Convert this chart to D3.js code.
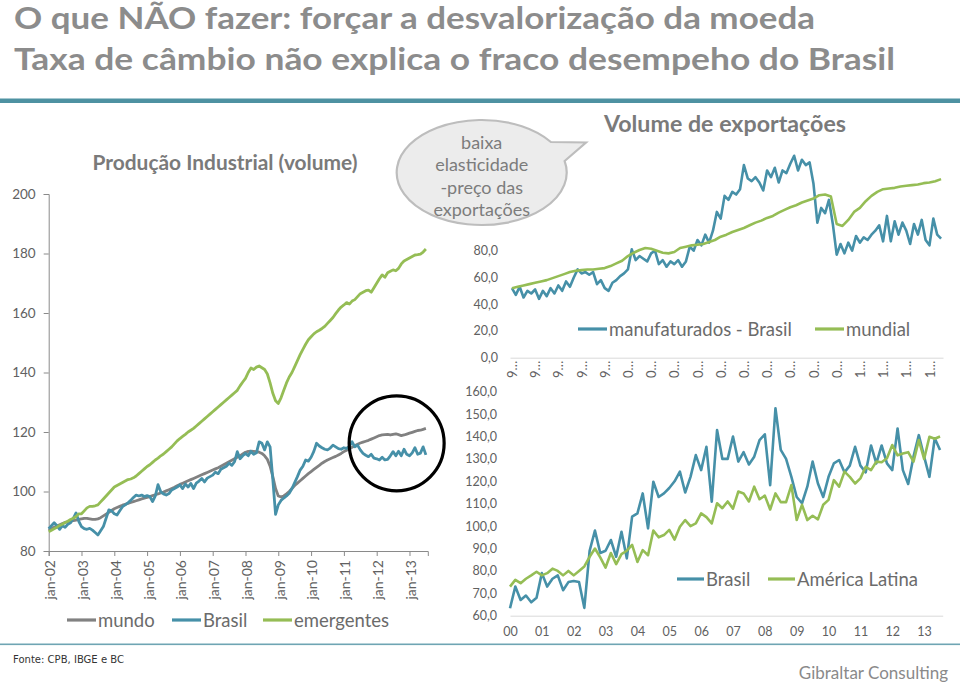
<!DOCTYPE html>
<html><head><meta charset="utf-8">
<script src="https://cdn.jsdelivr.net/npm/d3@7"></script>
<style>body{margin:0;background:#fff}svg{display:block}</style>
</head><body>
<svg id="c" width="960" height="682"></svg>
<script>
// ---------- texts ----------
const titleLines = ["O que NÃO fazer: forçar a desvalorização da moeda",
                    "Taxa de câmbio não explica o fraco desempeho do Brasil"];
const leftTitle = "Produção Industrial (volume)";
const topTitle = "Volume de exportações";
const calloutLines = ["baixa", "elasticidade", "-preço das", "exportações"];
const sourceText = "Fonte: CPB, IBGE e BC";
const brandText = "Gibraltar Consulting";

// ---------- left chart: Produção Industrial (monthly, jan-02 .. jul-13) ----------
const leftYTicks = [80, 100, 120, 140, 160, 180, 200];
const leftXLabels = ["jan-02","jan-03","jan-04","jan-05","jan-06","jan-07","jan-08","jan-09","jan-10","jan-11","jan-12","jan-13"];
const leftLegend = ["mundo", "Brasil", "emergentes"];
const mundo = [
 87.0,87.5,88.0,88.4,88.8,89.2,89.6,89.8,90.0,90.2,90.4,90.6,
 90.8,91.0,91.0,90.8,90.6,90.6,90.8,91.2,91.8,92.4,93.0,93.6,
 94.2,94.6,95.0,95.4,95.7,96.0,96.3,96.6,96.9,97.2,97.5,97.8,
 98.0,98.3,98.6,98.9,99.2,99.5,99.8,100.2,100.6,101.0,101.4,101.9,
 102.4,102.8,103.2,103.6,104.0,104.4,104.8,105.2,105.6,106.0,106.4,106.8,
 107.2,107.6,108.0,108.5,109.0,109.5,110.0,110.5,111.0,111.5,112.0,112.6,
 113.2,113.5,113.6,113.5,113.4,113.2,112.8,112.0,110.8,108.5,105.0,101.0,
 98.5,98.2,98.5,99.2,100.0,101.0,102.0,102.8,103.6,104.4,105.2,106.0,
 106.7,107.4,108.1,108.8,109.5,110.1,110.6,111.0,111.4,111.8,112.3,112.8,
 113.4,113.9,114.4,114.9,115.4,115.9,116.3,116.6,116.9,117.2,117.6,118.0,
 118.4,118.8,119.0,119.1,119.2,119.0,119.2,119.4,119.1,118.8,119.0,119.3,
 119.6,119.9,120.2,120.5,120.6,120.9,121.2];
const emergentes = [
 86.5,87.0,87.5,88.0,88.6,89.0,89.6,90.0,90.6,91.0,91.6,92.5,
 92.5,93.5,94.5,95.0,95.0,95.2,95.5,96.5,97.5,98.5,99.5,100.5,
 101.5,102.0,102.5,103.0,103.5,104.0,104.2,104.6,105.2,106.0,106.8,107.6,
 108.4,109.0,109.8,110.6,111.2,112.0,112.6,113.4,114.2,115.0,116.0,117.0,
 117.8,118.5,119.2,120.0,120.6,121.2,122.0,122.8,123.6,124.4,125.2,126.0,
 126.8,127.6,128.4,129.2,130.0,130.8,131.6,132.4,133.2,134.0,135.5,136.8,
 138.0,140.0,141.5,141.0,141.8,142.2,141.6,141.0,139.5,136.5,133.0,130.5,
 129.6,131.5,134.0,136.5,138.5,140.0,142.0,144.0,146.0,147.8,149.5,151.0,
 152.0,153.0,153.7,154.2,154.8,155.5,156.5,157.5,158.5,159.8,161.0,162.0,
 162.7,163.5,163.0,164.0,164.5,165.5,166.5,167.0,167.5,167.7,167.0,168.5,
 170.0,171.5,172.8,172.0,173.5,174.0,174.5,174.2,175.0,176.5,177.5,178.0,
 178.5,179.0,179.5,179.6,179.8,180.5,181.5];
const brasilIP = [
 87.5,88.5,89.5,88.5,87.3,88.5,88.0,89.0,89.5,91.0,92.8,90.0,
 88.2,87.5,87.3,87.6,87.0,86.2,85.4,86.8,88.2,91.0,93.8,93.5,
 92.5,92.1,93.5,94.9,95.5,96.2,97.0,98.0,98.8,98.5,98.8,98.3,
 98.6,98.3,96.6,98.5,102.3,99.9,99.2,98.8,99.3,100.5,101.0,101.5,
 102.2,101.0,102.5,101.5,102.7,101.0,102.8,103.5,104.4,103.2,104.5,105.0,
 105.5,106.5,106.0,107.5,108.0,108.5,109.5,108.8,110.0,113.4,111.0,112.0,
 112.8,112.0,113.5,112.5,113.0,116.7,116.2,114.0,116.7,115.0,104.0,92.3,
 95.5,97.0,97.8,98.5,99.4,101.0,103.0,105.0,107.2,108.5,110.6,110.2,
 111.5,113.5,116.2,115.3,114.7,114.2,114.0,114.6,115.6,115.0,114.4,114.2,
 114.7,114.5,115.2,116.7,115.0,115.6,114.0,112.8,112.2,111.7,112.5,111.2,
 111.0,110.6,111.5,110.6,110.8,112.0,113.4,112.0,113.5,112.0,114.2,112.5,
 112.0,113.0,114.7,112.5,112.9,115.0,112.3];

// ---------- right top: Volume de exportações (from jan-95) ----------
const topYTicks = [0, 20, 40, 60, 80];
const topXLabels = ["9…","9…","9…","9…","9…","0…","0…","0…","0…","0…","0…","0…","0…","0…","0…","1…","1…","1…","1…"];
const topLegend = ["manufaturados - Brasil", "mundial"];
// every 2 months
const manufBrasil = [
 52,47,53,45,50,48,  51,44,50,46,52,48,  54,50,57,53,60,66,  63,64,62,64,55,58,
 52,50,56,58,61,63,  66,81,73,76,74,72,  78,80,70,73,68,72,  70,73,68,72,83,80,
 88,84,92,86,95,109, 104,121,118,124,122,126, 144,134,132,135,131,125, 140,135,142,131,140,138,
 145,151,140,148,144,146, 130,101,112,108,118,100, 77,85,78,86,80,91, 86,90,88,92,95,99,
 87,106,87,102,92,101, 95,85,100,92,103,88, 84,104,92,89];
// every 3 months
const mundial = [
 52,53,54,55, 56,57,58,59.5, 61,62.5,64,65, 65.5,66,66,66.5, 67,68.5,70.5,72.5,
 76,78.5,80.5,82, 81.5,80,78.5,78, 79,82,83,84, 84.5,85,86.5,88, 90.5,92,94,95.5,
 97,99,101,102.5, 104.5,106,108.5,110.5, 112.5,114,116,117.5, 119,121.5,122,120.5,
 100,98.5,103,109, 112,117,121,124, 126,126.5,127,128, 128.5,129,129.5,130.5, 131,132,133.5];

// ---------- right bottom (from jan-00, every 2 months) ----------
const botYTicks = [60, 70, 80, 90, 100, 110, 120, 130, 140, 150, 160];
const botXLabels = ["00","01","02","03","04","05","06","07","08","09","10","11","12","13"];
const botLegend = ["Brasil", "América Latina"];
const brasilBot = [
 63.3,73,67,69,66,68,  79,73,76.5,78,71.4,75,  75.5,75,63.5,89,98,88,
 89,93.8,86.3,97.5,85.6,104.2,  105.7,114.6,99,119.8,113,114.6,  117,120,124.3,115,122,131.7,
 125,135.4,110.9,142.9,130,130,  140,128.8,133,127.5,131,138.4,  141,118.3,152.6,134,130,122,
 113,110.2,117.6,128.8,119,113,  122,128,129.5,124,127,135.4,  127,124,136,128,136,128,
 125,143.6,125,118.8,131,140.6,  131,122,139.2,134];
const amLatina = [
 73,76,74.5,76.5,78,79.6,  78,79,81,80,78,80,  78,80,82,86.3,90,86,
 81.5,88,83,87.5,89,91.6,  84,89.3,87,98,95,96,  98.3,94,99.7,102.7,100,101.2,
 105.7,104,101.2,110.2,108,111,  107.8,115.4,114.6,111,117.6,112,  113.6,107.4,114.6,110.7,110.7,118.3,
 102.7,109.5,102.7,104.6,103,109.5,  111.7,120.5,117.6,124.3,122,119,  121.3,126.5,125,128.8,128.5,130.3,
 136.2,131.6,132.4,133,128.8,138.4,  130,139.9,139,140];

// ---------- styles ----------
const TEAL = "#4690a8", GREEN = "#95bd55", GRAY = "#818181";
const TXT = "#6b6b6b", AX = "#616161";
const F = "Lato, 'Open Sans', sans-serif";

const svg = d3.select("#c");

// titles
svg.selectAll("text.title").data(titleLines).join("text")
  .attr("x", 14).attr("y", (d, i) => i ? 70 : 29)
  .attr("textLength", (d, i) => i ? 881 : 801).attr("lengthAdjust", "spacingAndGlyphs")
  .attr("font-family", F).attr("font-weight", "bold")
  .attr("font-size", 30).attr("fill", "#8c8c8c").text(d => d);

svg.append("rect").attr("x", 0).attr("y", 98.5).attr("width", 960).attr("height", 4.5).attr("fill", "#4e92a2");
svg.append("rect").attr("x", 0).attr("y", 643.5).attr("width", 960).attr("height", 1.6).attr("fill", "#6fa5b3");

svg.append("text").attr("x", 13).attr("y", 663).attr("font-family", "'DejaVu Sans', Verdana, sans-serif")
  .attr("font-size", 10.5).attr("fill", "#333").attr("textLength", 111).attr("lengthAdjust", "spacingAndGlyphs").text(sourceText);
svg.append("text").attr("x", 948).attr("y", 679).attr("text-anchor", "end").attr("font-family", F)
  .attr("font-size", 17).attr("fill", "#8a8a8a").text(brandText);

function styleAxis(g, lineColor) {
  g.selectAll("path.domain").attr("stroke", lineColor);
  g.selectAll(".tick line").attr("stroke", lineColor);
  g.selectAll("text").attr("fill", AX).attr("font-family", F);
}

// ================= LEFT CHART =================
const xL = d3.scaleLinear().domain([0, 138.7]).range([48.7, 427.8]);
const yL = d3.scaleLinear().domain([80, 200]).range([551, 194]);

svg.append("text").attr("x", 225).attr("y", 170).attr("text-anchor", "middle")
  .attr("font-family", F).attr("font-weight", "bold").attr("font-size", 20).attr("fill", "#7a7a7a")
  .attr("textLength", 265).attr("lengthAdjust", "spacingAndGlyphs").text(leftTitle);

const gyL = svg.append("g").attr("transform", `translate(${xL(0)},0)`)
  .call(d3.axisLeft(yL).tickValues(leftYTicks).tickSize(5).tickPadding(8).tickFormat(d3.format("d")));
gyL.attr("font-size", 13.5); styleAxis(gyL, "#8a8a8a");

const gxL = svg.append("g").attr("transform", `translate(0,${yL(80)})`)
  .call(d3.axisBottom(xL).tickValues(leftXLabels.map((d, i) => i * 12)).tickSize(5).tickFormat((d, i) => leftXLabels[i]));
gxL.attr("font-size", 14); styleAxis(gxL, "#8a8a8a");
gxL.selectAll("text").attr("transform", "rotate(-90)").attr("text-anchor", "end")
  .attr("x", -9).attr("y", 1).attr("dy", "0.35em");

const lineL = d3.line().x((d, i) => xL(i)).y(d => yL(d)).curve(d3.curveLinear);
[[mundo, GRAY], [brasilIP, TEAL], [emergentes, GREEN]].forEach(([data, c]) => {
  svg.append("path").datum(data).attr("d", lineL).attr("fill", "none").attr("stroke", c)
    .attr("stroke-width", 2.8).attr("stroke-linejoin", "round");
});

// highlight circle
svg.append("circle").attr("cx", xL(127.3)).attr("cy", yL(116.2)).attr("r", 47.5)
  .attr("fill", "none").attr("stroke", "#000").attr("stroke-width", 3.2);

// legend
const legL = [[67, GRAY], [172, TEAL], [263, GREEN]];
legL.forEach(([x0, c], i) => {
  svg.append("line").attr("x1", x0).attr("x2", x0 + 29).attr("y1", 620).attr("y2", 620)
    .attr("stroke", c).attr("stroke-width", 3.2);
  svg.append("text").attr("x", x0 + 31).attr("y", 626.5).attr("font-family", F).attr("font-size", 18.5)
    .attr("fill", TXT).text(leftLegend[i]);
});

// ================= RIGHT TOP =================
const xT = d3.scaleLinear().domain([-1, 223]).range([510, 943]);
const yT = d3.scaleLinear().domain([0, 80]).range([357.7, 250.7]);

const gyT = svg.append("g").attr("transform", "translate(510,0)")
  .call(d3.axisLeft(yT).tickValues(topYTicks).tickSize(0).tickPadding(12).tickFormat(d => d.toFixed(1).replace(".", ",")));
gyT.attr("font-size", 12.5); styleAxis(gyT, "none"); gyT.select("path.domain").remove();

const gxT = svg.append("g").attr("transform", `translate(0,${yT(0)})`)
  .call(d3.axisBottom(xT).tickValues(topXLabels.map((d, i) => i * 12)).tickSize(0).tickFormat((d, i) => topXLabels[i]));
gxT.attr("font-size", 13); styleAxis(gxT, "#d9d9d9");
gxT.selectAll("text").attr("transform", "rotate(-90)").attr("text-anchor", "end")
  .attr("x", -3).attr("y", 0).attr("dy", "0.35em");

svg.append("path").datum(manufBrasil).attr("d", d3.line().x((d, i) => xT(i * 2)).y(d => yT(d)))
  .attr("fill", "none").attr("stroke", TEAL).attr("stroke-width", 2.6).attr("stroke-linejoin", "round");
svg.append("path").datum(mundial).attr("d", d3.line().x((d, i) => xT(i * 3)).y(d => yT(d)))
  .attr("fill", "none").attr("stroke", GREEN).attr("stroke-width", 2.6).attr("stroke-linejoin", "round");

svg.append("text").attr("x", 725).attr("y", 132).attr("text-anchor", "middle").attr("font-family", F)
  .attr("font-weight", "bold").attr("font-size", 22).attr("fill", "#7a7a7a")
  .attr("textLength", 242).attr("lengthAdjust", "spacingAndGlyphs").text(topTitle);

[[578, TEAL], [815, GREEN]].forEach(([x0, c], i) => {
  svg.append("line").attr("x1", x0).attr("x2", x0 + 29).attr("y1", 329).attr("y2", 329)
    .attr("stroke", c).attr("stroke-width", 3.2);
  svg.append("text").attr("x", x0 + 31).attr("y", 335.5).attr("font-family", F).attr("font-size", 18.5)
    .attr("fill", TXT).text(topLegend[i]);
});

// ================= RIGHT BOTTOM =================
const xB = d3.scaleLinear().domain([0, 163]).range([510, 942.7]);
const yB = d3.scaleLinear().domain([60, 160]).range([615.7, 391.7]);

const gyB = svg.append("g").attr("transform", "translate(510,0)")
  .call(d3.axisLeft(yB).tickValues(botYTicks).tickSize(0).tickPadding(13).tickFormat(d => d.toFixed(1).replace(".", ",")));
gyB.attr("font-size", 12.5); styleAxis(gyB, "none"); gyB.select("path.domain").remove();

const gxB = svg.append("g").attr("transform", `translate(0,${yB(60)})`)
  .call(d3.axisBottom(xB).tickValues(botXLabels.map((d, i) => i * 12)).tickSize(0).tickPadding(11).tickFormat((d, i) => botXLabels[i]));
gxB.attr("font-size", 12.5); styleAxis(gxB, "#d9d9d9");

svg.append("path").datum(brasilBot).attr("d", d3.line().x((d, i) => xB(i * 2)).y(d => yB(d)))
  .attr("fill", "none").attr("stroke", TEAL).attr("stroke-width", 2.6).attr("stroke-linejoin", "round");
svg.append("path").datum(amLatina).attr("d", d3.line().x((d, i) => xB(i * 2)).y(d => yB(d)))
  .attr("fill", "none").attr("stroke", GREEN).attr("stroke-width", 2.6).attr("stroke-linejoin", "round");

[[677, TEAL], [768, GREEN]].forEach(([x0, c], i) => {
  svg.append("line").attr("x1", x0).attr("x2", x0 + 27).attr("y1", 579).attr("y2", 579)
    .attr("stroke", c).attr("stroke-width", 3.2);
  svg.append("text").attr("x", x0 + 29).attr("y", 585.5).attr("font-family", F).attr("font-size", 18.5)
    .attr("fill", TXT).text(botLegend[i]);
});

// ================= CALLOUT =================
const cx = 481.7, cy = 172.5, rx = 85, ry = 52.5;
const a1 = -0.62, a2 = -0.22; // angles where the tail leaves the ellipse
const p1 = [cx + rx * Math.cos(a1), cy + ry * Math.sin(a1)];
const p2 = [cx + rx * Math.cos(a2), cy + ry * Math.sin(a2)];
const tip = [586, 142.5];
const calloutPath = `M${p2[0]},${p2[1]} A${rx},${ry} 0 1 1 ${p1[0]},${p1[1]} L${tip[0]},${tip[1]} Z`;
svg.append("path").attr("d", calloutPath).attr("fill", "#ececec").attr("stroke", "#bdbdbd").attr("stroke-width", 2.2);
svg.selectAll("text.callout").data(calloutLines).join("text")
  .attr("x", cx).attr("y", (d, i) => 149 + i * 22.3).attr("text-anchor", "middle")
  .attr("font-family", F).attr("font-size", 18).attr("fill", "#7c7c7c").text(d => d);
</script>
</body></html>
